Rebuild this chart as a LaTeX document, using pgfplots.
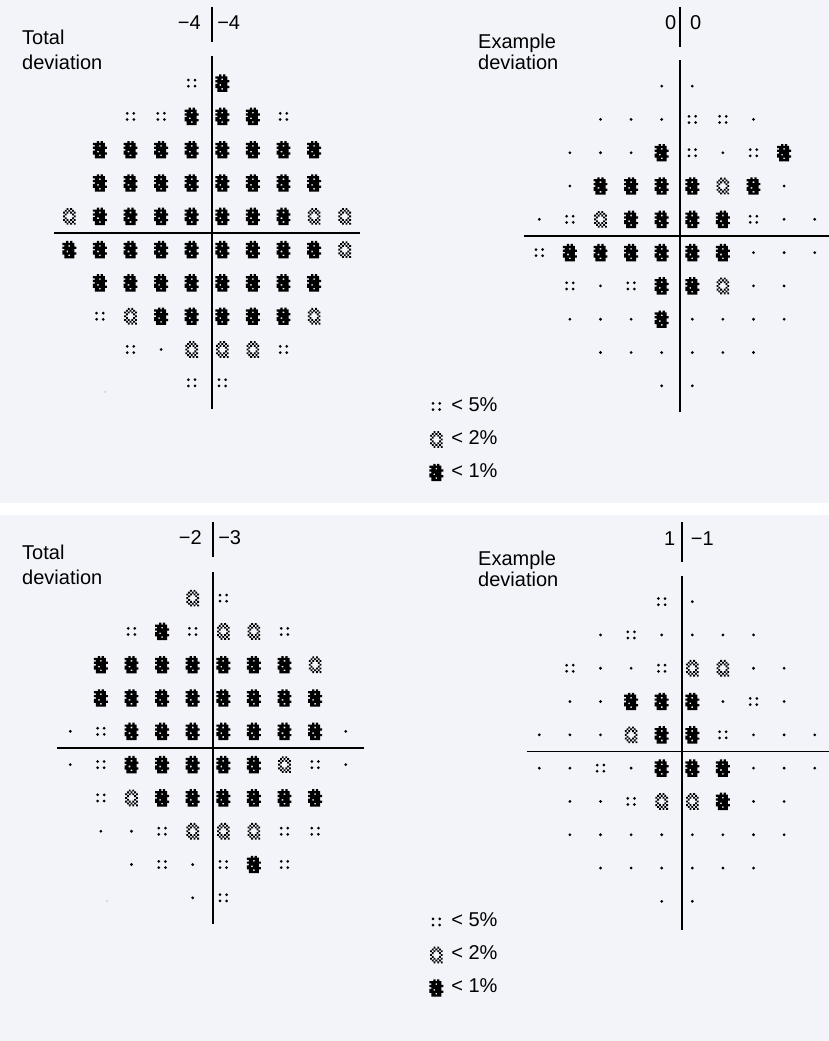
\documentclass[border=0pt]{standalone}
\usepackage{pgfplots}
\pgfplotsset{compat=1.18}
\usepackage{pgfplotstable}
\usepackage{fontspec}
\setmainfont{Liberation Sans}

% dense cells (slightly overlapping so the blob is solid)
\newcommand{\pd}[2]{\pgfpathrectangle{\pgfpoint{(#1-3.5)*1.95pt-0.15pt}{(3.5-#2)*1.9pt-0.15pt}}{\pgfpoint{2.25pt}{2.2pt}}}
% checker cells
\newcommand{\pc}[2]{\pgfpathrectangle{\pgfpoint{(#1-3.5)*1.8pt}{(3.5-#2)*1.85pt}}{\pgfpoint{1.8pt}{1.85pt}}}
\pgfdeclareplotmark{ndot}{\pgfpathcircle{\pgfpointorigin}{1.55pt}\pgfusepathqfill}
\pgfdeclareplotmark{pfive}{%
 \pgfpathcircle{\pgfpoint{-3.3pt}{3.1pt}}{1.5pt}%
 \pgfpathcircle{\pgfpoint{3.3pt}{3.1pt}}{1.5pt}%
 \pgfpathcircle{\pgfpoint{-3.3pt}{-3.1pt}}{1.5pt}%
 \pgfpathcircle{\pgfpoint{3.3pt}{-3.1pt}}{1.5pt}%
 \pgfusepathqfill}
\pgfdeclareplotmark{ptwo}{%
 \pc{2}{0}\pc{4}{0}%
 \pc{1}{1}\pc{3}{1}\pc{5}{1}%
 \pc{0}{2}\pc{2}{2}\pc{4}{2}\pc{6}{2}%
 \pc{1}{3}\pc{5}{3}%
 \pc{0}{4}\pc{6}{4}%
 \pc{1}{5}\pc{5}{5}%
 \pc{0}{6}\pc{2}{6}\pc{4}{6}\pc{6}{6}%
 \pc{1}{7}\pc{3}{7}\pc{5}{7}%
 \pc{2}{8}\pc{4}{8}\pc{6}{8}%
 \pgfusepathqfill}
\pgfdeclareplotmark{pone}{%
 \pd{2}{0}\pd{4}{0}%
 \pd{0}{1}\pd{1}{1}\pd{2}{1}\pd{3}{1}\pd{4}{1}\pd{5}{1}%
 \pd{1}{2}\pd{2}{2}\pd{4}{2}\pd{5}{2}%
 \pd{0}{3}\pd{1}{3}\pd{2}{3}\pd{3}{3}\pd{4}{3}\pd{5}{3}\pd{6}{3}%
 \pd{1}{4}\pd{2}{4}\pd{3}{4}\pd{4}{4}\pd{5}{4}%
 \pd{0}{5}\pd{1}{5}\pd{3}{5}\pd{4}{5}\pd{5}{5}%
 \pd{0}{6}\pd{1}{6}\pd{2}{6}\pd{3}{6}\pd{4}{6}\pd{5}{6}\pd{6}{6}%
 \pd{1}{7}\pd{2}{7}\pd{4}{7}\pd{5}{7}%
 \pd{1}{8}\pd{2}{8}\pd{3}{8}\pd{4}{8}\pd{5}{8}%
 \pgfusepathqfill}

\definecolor{bg}{RGB}{242,244,249}
\newcommand{\lbl}{\fontsize{20pt}{24pt}\selectfont}

% Panel 1: Total deviation (top)
\pgfplotstableread{
x y c
-0.5 4.5 a
0.5 4.5 c
-2.5 3.5 a
-1.5 3.5 a
-0.5 3.5 c
0.5 3.5 c
1.5 3.5 c
2.5 3.5 a
-3.5 2.5 c
-2.5 2.5 c
-1.5 2.5 c
-0.5 2.5 c
0.5 2.5 c
1.5 2.5 c
2.5 2.5 c
3.5 2.5 c
-3.5 1.5 c
-2.5 1.5 c
-1.5 1.5 c
-0.5 1.5 c
0.5 1.5 c
1.5 1.5 c
2.5 1.5 c
3.5 1.5 c
-4.5 0.5 b
-3.5 0.5 c
-2.5 0.5 c
-1.5 0.5 c
-0.5 0.5 c
0.5 0.5 c
1.5 0.5 c
2.5 0.5 c
3.5 0.5 b
4.5 0.5 b
-4.5 -0.5 c
-3.5 -0.5 c
-2.5 -0.5 c
-1.5 -0.5 c
-0.5 -0.5 c
0.5 -0.5 c
1.5 -0.5 c
2.5 -0.5 c
3.5 -0.5 c
4.5 -0.5 b
-3.5 -1.5 c
-2.5 -1.5 c
-1.5 -1.5 c
-0.5 -1.5 c
0.5 -1.5 c
1.5 -1.5 c
2.5 -1.5 c
3.5 -1.5 c
-3.5 -2.5 a
-2.5 -2.5 b
-1.5 -2.5 c
-0.5 -2.5 c
0.5 -2.5 c
1.5 -2.5 c
2.5 -2.5 c
3.5 -2.5 b
-2.5 -3.5 a
-1.5 -3.5 n
-0.5 -3.5 b
0.5 -3.5 b
1.5 -3.5 b
2.5 -3.5 a
-0.5 -4.5 a
0.5 -4.5 a
}\tabA

% Panel 2: Example deviation (top)
\pgfplotstableread{
x y c
-0.5 4.5 n
0.5 4.5 n
-2.5 3.5 n
-1.5 3.5 n
-0.5 3.5 n
0.5 3.5 a
1.5 3.5 a
2.5 3.5 n
-3.5 2.5 n
-2.5 2.5 n
-1.5 2.5 n
-0.5 2.5 c
0.5 2.5 a
1.5 2.5 n
2.5 2.5 a
3.5 2.5 c
-3.5 1.5 n
-2.5 1.5 c
-1.5 1.5 c
-0.5 1.5 c
0.5 1.5 c
1.5 1.5 b
2.5 1.5 c
3.5 1.5 n
-4.5 0.5 n
-3.5 0.5 a
-2.5 0.5 b
-1.5 0.5 c
-0.5 0.5 c
0.5 0.5 c
1.5 0.5 c
2.5 0.5 a
3.5 0.5 n
4.5 0.5 n
-4.5 -0.5 a
-3.5 -0.5 c
-2.5 -0.5 c
-1.5 -0.5 c
-0.5 -0.5 c
0.5 -0.5 c
1.5 -0.5 c
2.5 -0.5 n
3.5 -0.5 n
4.5 -0.5 n
-3.5 -1.5 a
-2.5 -1.5 n
-1.5 -1.5 a
-0.5 -1.5 c
0.5 -1.5 c
1.5 -1.5 b
2.5 -1.5 n
3.5 -1.5 n
-3.5 -2.5 n
-2.5 -2.5 n
-1.5 -2.5 n
-0.5 -2.5 c
0.5 -2.5 n
1.5 -2.5 n
2.5 -2.5 n
3.5 -2.5 n
-2.5 -3.5 n
-1.5 -3.5 n
-0.5 -3.5 n
0.5 -3.5 n
1.5 -3.5 n
2.5 -3.5 n
-0.5 -4.5 n
0.5 -4.5 n
}\tabB

% Panel 3: Total deviation (bottom)
\pgfplotstableread{
x y c
-0.5 4.5 b
0.5 4.5 a
-2.5 3.5 a
-1.5 3.5 c
-0.5 3.5 a
0.5 3.5 b
1.5 3.5 b
2.5 3.5 a
-3.5 2.5 c
-2.5 2.5 c
-1.5 2.5 c
-0.5 2.5 c
0.5 2.5 c
1.5 2.5 c
2.5 2.5 c
3.5 2.5 b
-3.5 1.5 c
-2.5 1.5 c
-1.5 1.5 c
-0.5 1.5 c
0.5 1.5 c
1.5 1.5 c
2.5 1.5 c
3.5 1.5 c
-4.5 0.5 n
-3.5 0.5 a
-2.5 0.5 c
-1.5 0.5 c
-0.5 0.5 c
0.5 0.5 c
1.5 0.5 c
2.5 0.5 c
3.5 0.5 c
4.5 0.5 n
-4.5 -0.5 n
-3.5 -0.5 a
-2.5 -0.5 c
-1.5 -0.5 c
-0.5 -0.5 c
0.5 -0.5 c
1.5 -0.5 c
2.5 -0.5 b
3.5 -0.5 a
4.5 -0.5 n
-3.5 -1.5 a
-2.5 -1.5 b
-1.5 -1.5 c
-0.5 -1.5 c
0.5 -1.5 c
1.5 -1.5 c
2.5 -1.5 c
3.5 -1.5 c
-3.5 -2.5 n
-2.5 -2.5 n
-1.5 -2.5 a
-0.5 -2.5 b
0.5 -2.5 b
1.5 -2.5 b
2.5 -2.5 a
3.5 -2.5 a
-2.5 -3.5 n
-1.5 -3.5 a
-0.5 -3.5 n
0.5 -3.5 a
1.5 -3.5 c
2.5 -3.5 a
-0.5 -4.5 n
0.5 -4.5 a
}\tabC

% Panel 4: Example deviation (bottom)
\pgfplotstableread{
x y c
-0.5 4.5 a
0.5 4.5 n
-2.5 3.5 n
-1.5 3.5 a
-0.5 3.5 n
0.5 3.5 n
1.5 3.5 n
2.5 3.5 n
-3.5 2.5 a
-2.5 2.5 n
-1.5 2.5 n
-0.5 2.5 a
0.5 2.5 b
1.5 2.5 b
2.5 2.5 n
3.5 2.5 n
-3.5 1.5 n
-2.5 1.5 n
-1.5 1.5 c
-0.5 1.5 c
0.5 1.5 c
1.5 1.5 n
2.5 1.5 a
3.5 1.5 n
-4.5 0.5 n
-3.5 0.5 n
-2.5 0.5 n
-1.5 0.5 b
-0.5 0.5 c
0.5 0.5 c
1.5 0.5 a
2.5 0.5 n
3.5 0.5 n
4.5 0.5 n
-4.5 -0.5 n
-3.5 -0.5 n
-2.5 -0.5 a
-1.5 -0.5 n
-0.5 -0.5 c
0.5 -0.5 c
1.5 -0.5 c
2.5 -0.5 n
3.5 -0.5 n
4.5 -0.5 n
-3.5 -1.5 n
-2.5 -1.5 n
-1.5 -1.5 a
-0.5 -1.5 b
0.5 -1.5 b
1.5 -1.5 c
2.5 -1.5 n
3.5 -1.5 n
-3.5 -2.5 n
-2.5 -2.5 n
-1.5 -2.5 n
-0.5 -2.5 n
0.5 -2.5 n
1.5 -2.5 n
2.5 -2.5 n
3.5 -2.5 n
-2.5 -3.5 n
-1.5 -3.5 n
-0.5 -3.5 n
0.5 -3.5 n
1.5 -3.5 n
2.5 -3.5 n
-0.5 -4.5 n
0.5 -4.5 n
}\tabD

\pgfplotsset{
  vf/.style={
    scale only axis, width=428.4pt, height=499.5pt,
    xmin=-7, xmax=7, ymin=-7.5, ymax=7.5,
    hide axis, clip=false, anchor=center,
  },
  vfpts/.style={
    scatter, only marks, scatter src=explicit symbolic,
    scatter/classes={
      n={mark=ndot,black},
      a={mark=pfive,black},
      b={mark=ptwo,black},
      c={mark=pone,black}},
  },
  vfline/.style={black, line width=1.5pt, no marks},
  vflegend/.style={
    legend style={draw=none, fill=none, inner sep=0pt, outer sep=0pt,
      row sep=12pt, column sep=7pt, font=\lbl, anchor=north west,
      at={(-0.078,0.1797)},
      nodes={inner sep=1pt, text height=14.5pt, text depth=4.5pt}},
    legend cell align=left,
  },
}

\begin{document}
\begin{tikzpicture}
\fill[bg] (0pt,0pt) rectangle (829pt,1041pt);
\fill[white] (0pt,526pt) rectangle (829pt,538pt);

% ---------- Panel 1 ----------
\begin{axis}[vf, at={(207pt,808pt)}]
\addplot[vfline] coordinates {(-5,0) (5,0)};
\addplot[vfline] coordinates {(0.16,-5.3) (0.16,5.3)};
\addplot[vfline] coordinates {(0.16,5.73) (0.16,6.8)};
\addplot[vfpts] table[x=x,y=y,meta=c] {\tabA};
\addplot[only marks, mark=*, mark size=0.8pt, gray!35] coordinates {(-3.33,-4.77)};
\node[anchor=base east, inner sep=0pt, font=\lbl] at (axis cs:-0.2,6.1) {−4};
\node[anchor=base west, inner sep=0pt, font=\lbl] at (axis cs:0.33,6.1) {−4};
\end{axis}

% ---------- Panel 2 ----------
\begin{axis}[vf, vflegend, at={(677pt,805pt)}]
\addlegendimage{only marks, mark=pfive, black}
\addlegendentry{< 5\%}
\addlegendimage{only marks, mark=ptwo, black}
\addlegendentry{< 2\%}
\addlegendimage{only marks, mark=pone, black}
\addlegendentry{< 1\%}
\addplot[vfline, forget plot] coordinates {(-5,0) (5.2,0)};
\addplot[vfline, forget plot] coordinates {(0.1,-5.3) (0.1,5.28)};
\addplot[vfline, forget plot] coordinates {(0.1,5.68) (0.1,6.88)};
\addplot[vfpts, forget plot] table[x=x,y=y,meta=c] {\tabB};
\node[anchor=base east, inner sep=0pt, font=\lbl] at (axis cs:-0.02,6.2) {0};
\node[anchor=base west, inner sep=0pt, font=\lbl] at (axis cs:0.42,6.2) {0};
\end{axis}

% ---------- Panel 3 ----------
\begin{axis}[vf, at={(208pt,293pt)}]
\addplot[vfline] coordinates {(-4.93,0) (5.1,0)};
\addplot[vfline] coordinates {(0.16,-5.3) (0.16,5.3)};
\addplot[vfline] coordinates {(0.16,5.73) (0.16,6.8)};
\addplot[vfpts] table[x=x,y=y,meta=c] {\tabC};
\addplot[only marks, mark=*, mark size=0.8pt, gray!35] coordinates {(-3.3,-4.6)};
\node[anchor=base east, inner sep=0pt, font=\lbl] at (axis cs:-0.2,6.1) {−2};
\node[anchor=base west, inner sep=0pt, font=\lbl] at (axis cs:0.33,6.1) {−3};
\end{axis}

% ---------- Panel 4 ----------
\begin{axis}[vf, vflegend, at={(677pt,289.5pt)}]
\addlegendimage{only marks, mark=pfive, black}
\addlegendentry{< 5\%}
\addlegendimage{only marks, mark=ptwo, black}
\addlegendentry{< 2\%}
\addlegendimage{only marks, mark=pone, black}
\addlegendentry{< 1\%}
\addplot[vfline, forget plot] coordinates {(-4.9,0) (5.2,0)};
\addplot[vfline, forget plot] coordinates {(0.16,-5.35) (0.16,5.28)};
\addplot[vfline, forget plot] coordinates {(0.16,5.68) (0.16,6.88)};
\addplot[vfpts, forget plot] table[x=x,y=y,meta=c] {\tabD};
\node[anchor=base east, inner sep=0pt, font=\lbl] at (axis cs:-0.05,6.2) {1};
\node[anchor=base west, inner sep=0pt, font=\lbl] at (axis cs:0.45,6.2) {−1};
\end{axis}

% titles
\node[anchor=base west, inner sep=0pt, font=\lbl] at (22pt,996pt) {Total};
\node[anchor=base west, inner sep=0pt, font=\lbl] at (22pt,971pt) {deviation};
\node[anchor=base west, inner sep=0pt, font=\lbl] at (478pt,992pt) {Example};
\node[anchor=base west, inner sep=0pt, font=\lbl] at (478pt,971pt) {deviation};
\node[anchor=base west, inner sep=0pt, font=\lbl] at (22pt,481pt) {Total};
\node[anchor=base west, inner sep=0pt, font=\lbl] at (22pt,456pt) {deviation};
\node[anchor=base west, inner sep=0pt, font=\lbl] at (478pt,475pt) {Example};
\node[anchor=base west, inner sep=0pt, font=\lbl] at (478pt,454pt) {deviation};

\pgfresetboundingbox
\path[use as bounding box] (0pt,0pt) rectangle (829pt,1041pt);
\end{tikzpicture}
\end{document}
